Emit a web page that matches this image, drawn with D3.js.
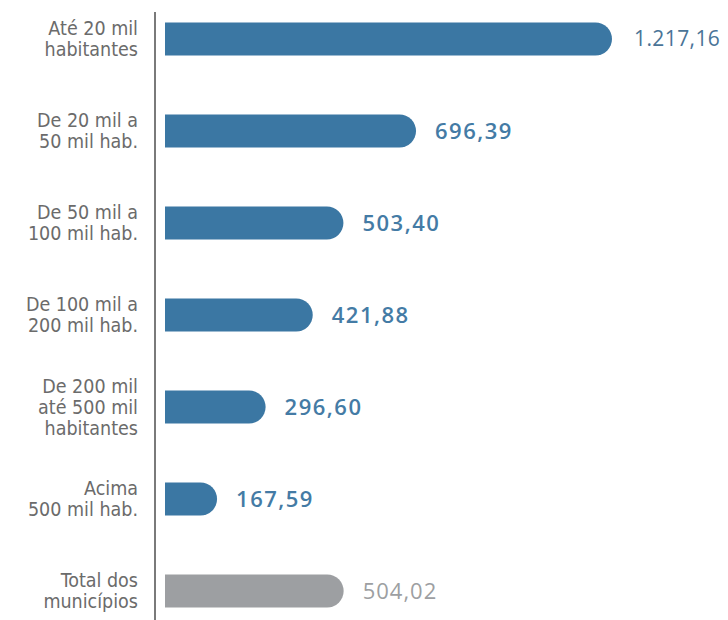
<!DOCTYPE html>
<html>
<head>
<meta charset="utf-8">
<script src="https://cdn.jsdelivr.net/npm/d3@7"></script>
<style>
  body { margin: 0; background: #fff; }
  .cat { font-family: "DejaVu Sans Condensed", "Liberation Sans Narrow", sans-serif; font-size: 19.5px; fill: #6b6b6b; }
  .val { font-family: "Open Sans", sans-serif; font-size: 22px; }
</style>
</head>
<body>
<svg id="chart"></svg>
<script>
// faixas de população
var categories = [
  ["Até 20 mil", "habitantes"],
  ["De 20 mil a", "50 mil hab."],
  ["De 50 mil a", "100 mil hab."],
  ["De 100 mil a", "200 mil hab."],
  ["De 200 mil", "até 500 mil", "habitantes"],
  ["Acima", "500 mil hab."],
  ["Total dos", "municípios"]
];
var values = [1217.16, 696.39, 503.40, 421.88, 296.60, 167.59, 504.02];
var valueLabels = ["1.217,16", "696,39", "503,40", "421,88", "296,60", "167,59", "504,02"];

var width = 728, height = 620;
var blue = "#3b77a3", grey = "#9d9fa2";

var svg = d3.select("#chart")
  .attr("width", width)
  .attr("height", height);

var x = d3.scaleLinear()
  .domain([0, 1217.16])
  .range([154, 612]);

var y = d3.scaleBand()
  .domain(d3.range(values.length))
  .range([-7, 637])
  .paddingInner(0.64)
  .paddingOuter(0.32);

var gap = 11;
var bh = y.bandwidth();

// barras com ponta arredondada
function barPath(i) {
  var x0 = x(0) + gap, x1 = x(values[i]), y0 = y(i), r = bh / 2;
  return "M" + x0 + "," + y0 +
    "H" + (x1 - r) +
    "A" + r + "," + r + " 0 0 1 " + (x1 - r) + "," + (y0 + bh) +
    "H" + x0 + "Z";
}

svg.selectAll(".bar")
  .data(values)
  .enter().append("path")
  .attr("class", "bar")
  .attr("d", function(d, i) { return barPath(i); })
  .attr("fill", function(d, i) { return i == values.length - 1 ? grey : blue; });

// eixo vertical
svg.append("line")
  .attr("x1", 155).attr("x2", 155)
  .attr("y1", 12).attr("y2", height)
  .attr("stroke", "#7a7a7a")
  .attr("stroke-width", 2);

// rótulos das categorias
var lh = 21;
svg.selectAll(".cat")
  .data(categories)
  .enter().append("text")
  .attr("class", "cat")
  .attr("text-anchor", "end")
  .each(function(lines, i) {
    var t = d3.select(this);
    var cy = y(i) + bh / 2;
    var start = cy - (lines.length - 1) * lh / 2;
    lines.forEach(function(s, k) {
      t.append("tspan")
        .attr("x", 138)
        .attr("y", start + k * lh)
        .attr("dy", "0.35em")
        .text(s);
    });
  });

// valores
var last = values.length - 1;
svg.selectAll(".val")
  .data(values)
  .enter().append("text")
  .attr("class", "val")
  .attr("x", function(d, i) { return x(d) + (i == 0 ? 22 : 19); })
  .attr("y", function(d, i) { return y(i) + bh / 2; })
  .attr("dy", "0.35em")
  .attr("fill", function(d, i) { return i == last ? grey : (i == 0 ? "#4a7497" : "#447ba5"); })
  .style("font-weight", function(d, i) { return (i == 0 || i == last) ? 400 : 600; })
  .style("font-size", function(d, i) { return i == 0 ? "21px" : null; })
  .style("letter-spacing", function(d, i) { return i == 0 ? "0.4px" : (i == last ? "1px" : "1.5px"); })
  .text(function(d, i) { return valueLabels[i]; });
</script>
</body>
</html>
